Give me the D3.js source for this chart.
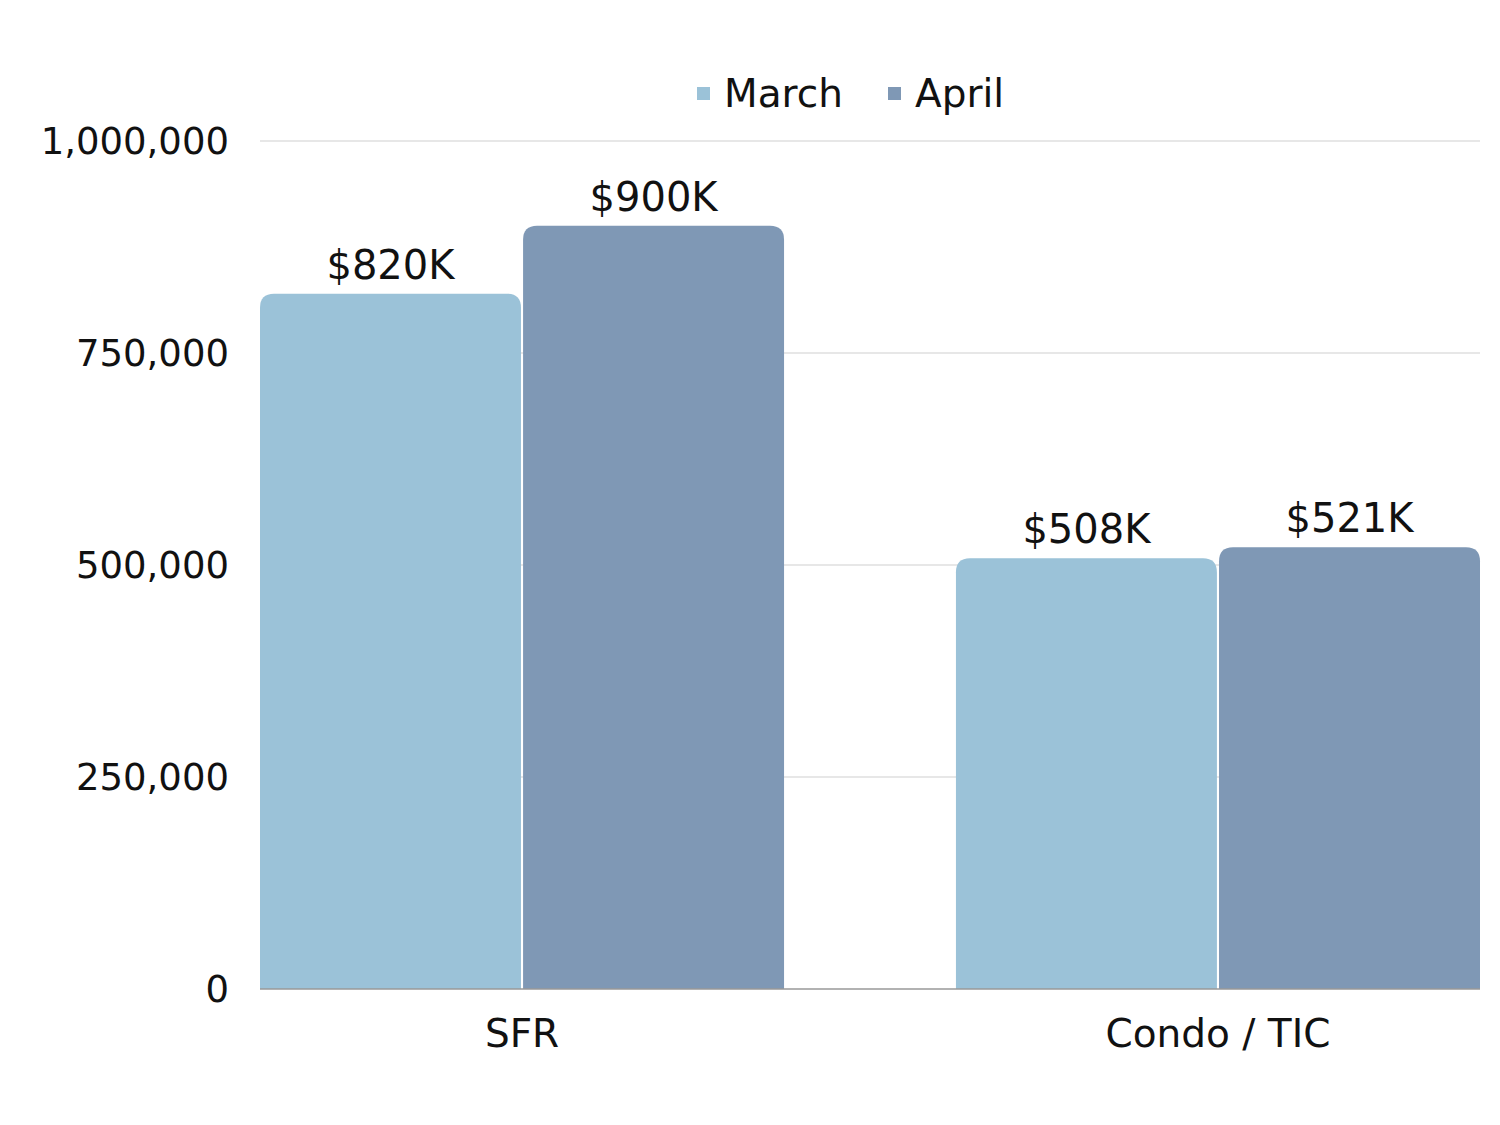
<!DOCTYPE html>
<html>
<head>
<meta charset="utf-8">
<script src="https://cdn.jsdelivr.net/npm/d3@7"></script>
<style>
  body { margin: 0; background: #fff; }
  text { font-family: "DejaVu Sans", sans-serif; fill: #111; }
</style>
</head>
<body>
<script>
// data
const categories = ['SFR', 'Condo / TIC'];
const seriesNames = ['March', 'April'];
const march = [820000, 508000];
const april = [900000, 521000];
const labels = [['$820K', '$900K'], ['$508K', '$521K']];
const yTicks = [0, 250000, 500000, 750000, 1000000];
const colors = ['#9bc2d8', '#7f98b5'];

const W = 1500, H = 1125;
const margin = {top: 141, right: 20, bottom: 136, left: 260};

const svg = d3.select('body').append('svg').attr('width', W).attr('height', H);

const x = d3.scaleBand().domain(categories)
  .range([margin.left, W - margin.right])
  .paddingInner(0.247).paddingOuter(0);
const x1 = d3.scaleBand().domain(seriesNames).range([0, x.bandwidth()]).paddingInner(0.008);
const y = d3.scaleLinear().domain([0, 1000000]).range([H - margin.bottom, margin.top]);

// grid
svg.append('g').selectAll('line').data(yTicks.slice(1)).join('line')
  .attr('x1', margin.left).attr('x2', W - margin.right)
  .attr('y1', d => y(d)).attr('y2', d => y(d))
  .style('stroke', '#cfcfcf').style('stroke-width', 1.2);

// y tick labels
svg.append('g').selectAll('text').data(yTicks).join('text')
  .attr('x', 229).attr('y', d => y(d)).attr('dy', '0.35em')
  .attr('text-anchor', 'end').style('font-size', '37px')
  .text(d => d3.format(',')(d));

// bars
const r = 14;
function topRounded(x0, y0, w, h) {
  return `M${x0},${y0 + h}V${y0 + r}Q${x0},${y0} ${x0 + r},${y0}H${x0 + w - r}Q${x0 + w},${y0} ${x0 + w},${y0 + r}V${y0 + h}Z`;
}
const rows = [];
categories.forEach((c, i) => {
  rows.push({cat: c, s: 'March', v: march[i], lab: labels[i][0], col: colors[0]});
  rows.push({cat: c, s: 'April', v: april[i], lab: labels[i][1], col: colors[1]});
});
const bars = svg.append('g');
bars.selectAll('path').data(rows).join('path')
  .attr('d', d => topRounded(x(d.cat) + x1(d.s), y(d.v), x1.bandwidth(), y(0) - y(d.v)))
  .style('fill', d => d.col);
bars.selectAll('text').data(rows).join('text')
  .attr('x', d => x(d.cat) + x1(d.s) + x1.bandwidth() / 2)
  .attr('y', d => y(d.v) - 15)
  .attr('text-anchor', 'middle').style('font-size', '40px')
  .text(d => d.lab);

// axis line
svg.append('line')
  .attr('x1', margin.left).attr('x2', W - margin.right)
  .attr('y1', y(0)).attr('y2', y(0))
  .style('stroke', '#999').style('stroke-width', 1.5);

// x labels
svg.append('g').selectAll('text').data(categories).join('text')
  .attr('x', d => x(d) + x.bandwidth() / 2).attr('y', 1047)
  .attr('text-anchor', 'middle').style('font-size', '39px')
  .text(d => d);

// legend
const legend = svg.append('g');
const legX = [697, 888];
seriesNames.forEach((s, i) => {
  legend.append('rect').attr('x', legX[i]).attr('y', 87).attr('width', 13).attr('height', 13)
    .style('fill', colors[i]);
  legend.append('text').attr('x', legX[i] + 27).attr('y', 107)
    .style('font-size', '39px').text(s);
});
</script>
</body>
</html>
